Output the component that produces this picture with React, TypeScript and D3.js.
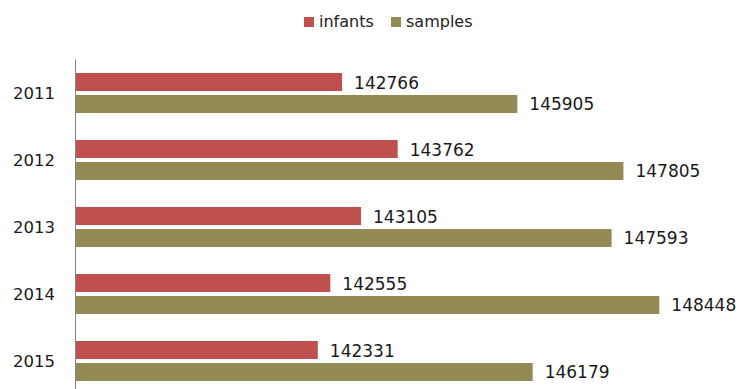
import React from "react";
import * as d3 from "d3";

const years = ["2011", "2012", "2013", "2014", "2015"];
const seriesKeys = ["infants", "samples"];
const infants = [142766, 143762, 143105, 142555, 142331];
const samples = [145905, 147805, 147593, 148448, 146179];
const colors = ["#C0504D", "#948A54"];
const xDomain = [138000, 150000];

const W = 748;
const H = 389;
const FONT = "'DejaVu Sans', sans-serif";

export default function App() {
  const x = d3.scaleLinear().domain(xDomain).range([76, 746]);
  const y = d3.scaleBand().domain(years).range([59.5, 394.5]).padding(0);
  const inner = d3
    .scaleBand()
    .domain(seriesKeys)
    .range([13.5, 53.5])
    .paddingInner(0.1818)
    .paddingOuter(0);
  const values = [infants, samples];

  return (
    <svg
      width={W}
      height={H}
      style={{ position: "absolute", left: 0, top: 0, background: "#fff" }}
    >
      {/* legend */}
      <g fontFamily={FONT} fontSize={16} fill="#222">
        <rect x={304} y={17} width={10} height={10} fill={colors[0]} />
        <text x={319} y={27}>infants</text>
        <rect x={391} y={17} width={10} height={10} fill={colors[1]} />
        <text x={406} y={27}>samples</text>
      </g>

      {/* bars and value labels */}
      {years.map((yr, i) => (
        <g key={yr}>
          {seriesKeys.map((k, j) => {
            const v = values[j][i];
            const by = (y(yr) as number) + (inner(k) as number);
            const bh = inner.bandwidth();
            return (
              <g key={k}>
                <rect
                  x={x(xDomain[0])}
                  y={by}
                  width={x(v) - x(xDomain[0])}
                  height={bh}
                  fill={colors[j]}
                />
                <text
                  x={x(v) + 12}
                  y={by + bh / 2 + 6.5}
                  fontFamily={FONT}
                  fontSize={17}
                  fill="#1a1a1a"
                >
                  {v}
                </text>
              </g>
            );
          })}
          <text
            x={55}
            y={(y(yr) as number) + y.bandwidth() / 2 + 6.3}
            textAnchor="end"
            fontFamily={FONT}
            fontSize={16.5}
            fill="#1a1a1a"
          >
            {yr}
          </text>
        </g>
      ))}

      {/* category axis */}
      <line x1={75.5} x2={75.5} y1={59.5} y2={H} stroke="#868686" strokeWidth={1} />
    </svg>
  );
}
